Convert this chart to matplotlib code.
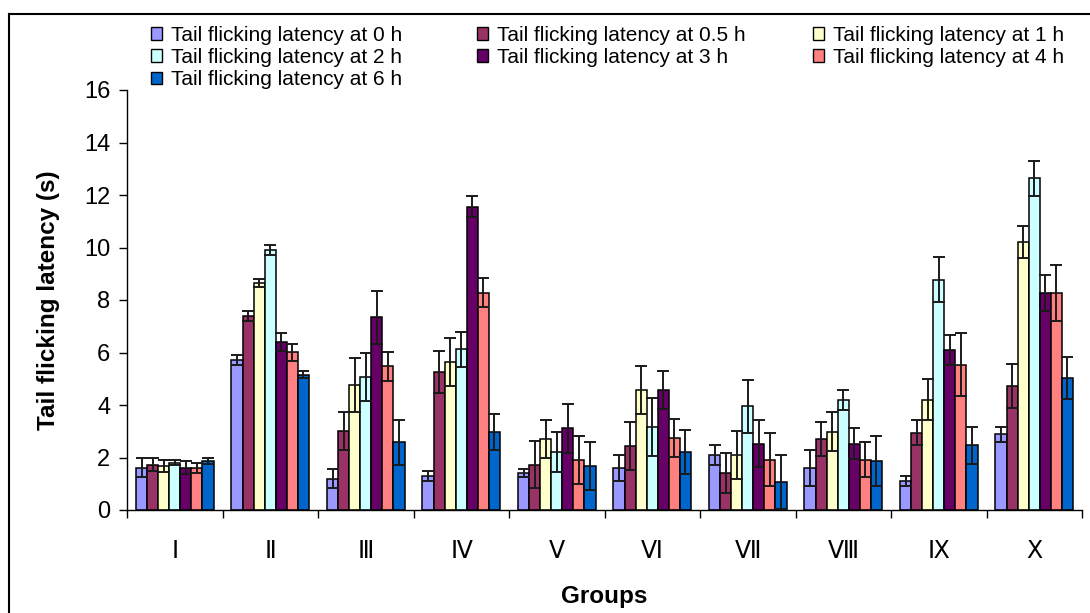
import matplotlib
matplotlib.use("Agg")
import matplotlib.pyplot as plt
import numpy as np
from matplotlib.patches import Patch
from matplotlib.lines import Line2D

plt.rcParams['font.family'] = ['Liberation Sans', 'DejaVu Sans']

groups = ["Ⅰ", "Ⅱ", "Ⅲ", "Ⅳ", "Ⅴ", "Ⅵ", "Ⅶ", "Ⅷ", "Ⅸ", "Ⅹ"]
series_names = ["Tail flicking latency at 0 h", "Tail flicking latency at 0.5 h",
                "Tail flicking latency at 1 h", "Tail flicking latency at 2 h",
                "Tail flicking latency at 3 h", "Tail flicking latency at 4 h",
                "Tail flicking latency at 6 h"]
colors = ["#9999FF", "#993366", "#FFFFCC", "#CCFFFF", "#660066", "#FF8080", "#0066CC"]

m0 = [1.61, 5.72, 1.19, 1.30, 1.41, 1.60, 2.10, 1.60, 1.12, 2.88]
e0 = [0.36, 0.19, 0.37, 0.19, 0.14, 0.49, 0.37, 0.68, 0.19, 0.30]
m05 = [1.73, 7.39, 3.00, 5.27, 1.73, 2.45, 1.41, 2.70, 2.94, 4.73]
e05 = [0.24, 0.20, 0.73, 0.80, 0.91, 0.91, 0.76, 0.66, 0.48, 0.85]
m1 = [1.67, 8.65, 4.75, 5.64, 2.70, 4.56, 2.10, 2.99, 4.20, 10.21]
e1 = [0.23, 0.15, 1.03, 0.90, 0.72, 0.91, 0.90, 0.73, 0.78, 0.61]
m2 = [1.80, 9.90, 5.06, 6.12, 2.21, 3.16, 3.96, 4.19, 8.78, 12.64]
e2 = [0.10, 0.20, 0.91, 0.67, 0.78, 1.12, 1.01, 0.38, 0.86, 0.67]
m3 = [1.61, 6.39, 7.35, 11.55, 3.11, 4.56, 2.53, 2.53, 6.09, 8.27]
e3 = [0.25, 0.34, 1.01, 0.40, 0.92, 0.72, 0.90, 0.59, 0.58, 0.68]
m4 = [1.61, 6.01, 5.47, 8.28, 1.91, 2.75, 1.92, 1.92, 5.53, 8.27]
e4 = [0.19, 0.32, 0.56, 0.56, 0.91, 0.72, 1.01, 0.66, 1.20, 1.06]
m6 = [1.86, 5.16, 2.58, 2.98, 1.67, 2.21, 1.06, 1.86, 2.46, 5.04]
e6 = [0.11, 0.13, 0.85, 0.68, 0.92, 0.83, 1.04, 0.96, 0.72, 0.80]

means = [m0, m05, m1, m2, m3, m4, m6]
errs = [e0, e05, e1, e2, e3, e4, e6]
yticks = [0, 2, 4, 6, 8, 10, 12, 14, 16]

W, H = 1090, 613
fig = plt.figure(figsize=(W / 100, H / 100), dpi=100)
ax = fig.add_axes([127 / W, 1 - 510 / H, (1082 - 127) / W, (510 - 90) / H])

n = len(groups)
centers = np.arange(n) + 0.5
bw = 0.116
for j, (mv, ev) in enumerate(zip(means, errs)):
    x = centers + (j - 3) * bw
    ax.bar(x, mv, width=bw, color=colors[j], edgecolor='black', linewidth=1.1, zorder=2)
for j, (mv, ev) in enumerate(zip(means, errs)):
    x = centers + (j - 3) * bw
    ax.errorbar(x, mv, yerr=ev, fmt='none', ecolor='#1a1a1a', elinewidth=1.4,
                capsize=4.3, capthick=1.4, zorder=3)

ax.set_xlim(0, n)
ax.set_ylim(0, 16)
ax.set_yticks(yticks)
ax.set_yticklabels([str(t) for t in yticks], fontsize=17)
ax.set_xticks(np.arange(n + 1))
ax.set_xticklabels([])
ax.set_xticks(centers, minor=True)
ax.set_xticklabels(groups, minor=True, fontsize=17)
ax.tick_params(axis='x', which='minor', length=0, pad=22)
ax.tick_params(axis='x', which='major', length=6, width=1, direction='out')
ax.tick_params(axis='y', length=6, width=1, direction='out', pad=6)
for s in ['top', 'right']:
    ax.spines[s].set_visible(False)
for s in ['left', 'bottom']:
    ax.spines[s].set_linewidth(1.0)

ax.set_ylabel("Tail flicking latency (s)", fontsize=17.5, fontweight='bold', labelpad=17)
ax.set_xlabel("Groups", fontsize=17.5, fontweight='bold', labelpad=16)

handles = [Patch(facecolor=c, edgecolor='black', linewidth=1.0) for c in colors]
cols = [[0, 3, 6], [1, 4], [2, 5]]
xs = [151, 477, 813]
for col, xp in zip(cols, xs):
    fig.legend([handles[i] for i in col], [series_names[i] for i in col],
               loc='upper left', bbox_to_anchor=(xp / W, 1 - 26 / H),
               frameon=False, fontsize=15, labelspacing=0.15, handlelength=0.55,
               handleheight=0.55, handletextpad=0.4, borderpad=0, borderaxespad=0)

# outer chart border
fig.add_artist(Line2D([9 / W, 1.0], [1 - 14 / H, 1 - 14 / H], color='black', linewidth=1.5))
fig.add_artist(Line2D([9 / W, 9 / W], [0, 1 - 14 / H], color='black', linewidth=1.5))

fig.savefig("out.png", dpi=100)
